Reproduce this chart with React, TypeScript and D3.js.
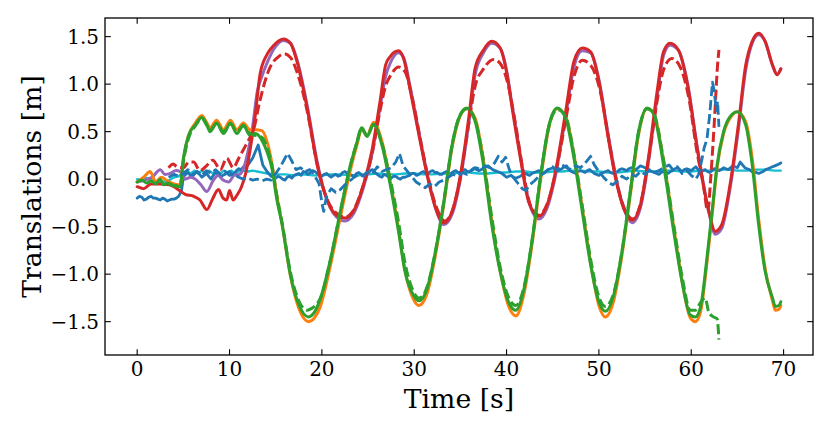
import React from "react";
import * as d3 from "d3";

type P = [number, number];

const xTicks = [0, 10, 20, 30, 40, 50, 60, 70];
const yTicks = [-1.5, -1.0, -0.5, 0.0, 0.5, 1.0, 1.5];
const xLabel = "Time [s]";
const yLabel = "Translations [m]";

const redSolid: P[] = [
  [0, -0.08], [0.7, -0.1], [1.5, -0.05], [2.5, -0.05], [3.5, -0.06], [4.6, -0.12], [5.2, -0.16], [6.1, -0.18],
  [6.8, -0.22], [7.55, -0.32], [8.2, -0.2], [8.8, -0.11], [9.3, -0.2], [9.7, -0.22], [10.0, -0.12], [10.4, -0.22],
  [10.8, -0.17], [11.3, -0.08], [11.8, 0.08], [12.2, 0.29], [12.8, 0.68], [13.3, 1.1], [14.05, 1.31], [14.8, 1.41],
  [15.85, 1.475], [16.6, 1.43], [17.3, 1.24], [18.4, 0.75], [19.5, 0.15], [20.3, -0.15], [20.9, -0.29], [21.6, -0.38],
  [22.5, -0.41], [23.4, -0.34], [24.5, -0.06], [25.4, 0.29], [26.3, 0.82], [26.9, 1.2], [27.4, 1.29], [28.3, 1.35],
  [28.85, 1.27], [29.6, 0.92], [30.5, 0.47], [31.4, 0.04], [32.3, -0.3], [33.2, -0.46], [34.1, -0.34], [35.0, 0.04],
  [35.9, 0.64], [36.6, 1.17], [37.5, 1.36], [38.4, 1.45], [39.3, 1.38], [40.05, 1.1], [40.6, 0.75], [41.5, 0.22],
  [42.4, -0.24], [43.5, -0.39], [44.4, -0.27], [45.3, 0.08], [46.4, 0.71], [47.3, 1.24], [48.2, 1.38], [49.1, 1.34],
  [50.0, 1.03], [50.9, 0.5], [51.8, 0.01], [52.7, -0.31], [53.6, -0.43], [54.5, -0.27], [55.4, 0.25], [56.3, 0.92],
  [57.0, 1.34], [57.7, 1.43], [58.6, 1.36], [59.6, 0.99], [60.6, 0.35], [61.0, 0.11], [61.9, -0.34], [62.6, -0.55],
  [63.3, -0.48], [64.2, -0.06], [65.1, 0.57], [65.9, 1.2], [66.6, 1.45], [67.3, 1.535], [68.0, 1.45], [68.8, 1.2],
  [69.3, 1.1], [69.7, 1.16],
];

const purpleSolid: P[] = [
  [0, -0.03], [0.8, -0.01], [1.6, 0.02], [2.5, 0.1], [3.0, 0.05], [3.6, 0.06], [4.2, 0.09], [4.66, 0.08],
  [5.2, 0.0], [5.8, 0.02], [6.3, 0.0], [6.9, -0.06], [7.55, -0.13], [8.2, -0.02], [8.8, 0.04], [9.3, -0.01],
  [9.9, -0.03], [10.5, 0.04], [11.1, 0.05], [11.5, 0.11], [12.0, 0.29], [12.5, 0.55], [13.0, 0.92], [13.5, 1.08],
  [14.05, 1.22], [14.8, 1.37], [15.85, 1.46], [16.6, 1.43], [17.3, 1.26], [18.4, 0.78], [19.5, 0.18], [20.3, -0.14],
  [20.9, -0.3], [21.6, -0.4], [22.5, -0.44], [23.4, -0.37], [24.5, -0.09], [25.4, 0.25], [26.3, 0.75], [26.9, 1.08],
  [27.4, 1.22], [28.3, 1.33], [28.85, 1.28], [29.6, 0.95], [30.5, 0.5], [31.4, 0.06], [32.3, -0.3], [33.2, -0.48],
  [34.1, -0.37], [35.0, 0.0], [35.9, 0.58], [36.6, 1.1], [37.5, 1.33], [38.4, 1.43], [39.3, 1.38], [40.05, 1.12],
  [40.6, 0.78], [41.5, 0.25], [42.4, -0.23], [43.5, -0.42], [44.4, -0.3], [45.3, 0.04], [46.4, 0.66], [47.3, 1.18],
  [48.2, 1.35], [49.1, 1.33], [50.0, 1.05], [50.9, 0.53], [51.8, 0.04], [52.7, -0.31], [53.6, -0.46], [54.5, -0.3],
  [55.4, 0.2], [56.3, 0.86], [57.0, 1.3], [57.7, 1.41], [58.6, 1.36], [59.6, 1.01], [60.6, 0.37], [61.0, 0.13],
  [61.9, -0.34], [62.6, -0.58], [63.3, -0.52], [64.2, -0.1], [65.1, 0.52], [65.9, 1.15], [66.6, 1.43], [67.3, 1.52],
  [68.0, 1.45], [68.8, 1.2], [69.3, 1.1], [69.7, 1.16],
];

const redDashed: P[] = [
  [3.4, 0.12], [3.9, 0.16], [4.3, 0.13], [5.0, 0.12], [5.6, 0.18], [6.1, 0.18], [6.8, 0.09], [7.5, 0.14],
  [8.2, 0.2], [9.0, 0.1], [9.7, 0.22], [10.4, 0.12], [11.0, 0.22], [11.5, 0.31], [12.0, 0.4], [12.6, 0.52],
  [13.3, 0.83], [14.4, 1.18], [15.2, 1.28], [15.9, 1.32], [16.6, 1.28], [17.4, 1.1], [18.4, 0.72], [19.5, 0.15],
  [20.6, -0.22], [21.6, -0.36], [22.5, -0.4], [23.4, -0.33], [24.5, -0.06], [25.4, 0.25], [26.3, 0.72], [26.9, 0.98],
  [27.5, 1.1], [28.3, 1.18], [29.0, 1.13], [29.8, 0.85], [30.7, 0.4], [31.6, -0.02], [32.5, -0.32], [33.3, -0.44],
  [34.1, -0.34], [35.0, 0.02], [35.9, 0.58], [36.6, 0.98], [37.5, 1.16], [38.6, 1.26], [39.3, 1.22], [40.2, 0.98],
  [40.9, 0.62], [41.8, 0.08], [42.6, -0.28], [43.5, -0.38], [44.4, -0.26], [45.3, 0.06], [46.4, 0.62], [47.3, 1.08],
  [48.2, 1.25], [49.1, 1.2], [50.2, 0.9], [51.1, 0.4], [52.0, -0.06], [52.8, -0.32], [53.7, -0.42], [54.5, -0.26],
  [55.4, 0.22], [56.3, 0.82], [57.0, 1.15], [57.9, 1.27], [58.8, 1.18], [59.8, 0.82], [60.6, 0.3], [61.3, -0.05],
  [61.8, -0.34], [62.1, 0.0], [62.5, 0.6], [62.85, 1.2], [63.0, 1.36],
];

const greenSolid: P[] = [
  [0, -0.03], [0.5, -0.01], [1.0, -0.04], [1.5, -0.02], [2.0, -0.05], [2.5, 0.0], [2.85, -0.06], [3.3, -0.04],
  [4.0, -0.07], [4.66, -0.08], [5.0, 0.22], [5.56, 0.46], [6.3, 0.57], [7.0, 0.65], [7.5, 0.58], [7.9, 0.5],
  [8.6, 0.59], [9.35, 0.48], [10.1, 0.59], [10.8, 0.48], [11.5, 0.57], [12.2, 0.46], [12.8, 0.48], [13.5, 0.41],
  [14.05, 0.29], [14.6, 0.11], [15.1, -0.2], [15.7, -0.48], [16.6, -1.01], [17.5, -1.32], [18.55, -1.45], [19.2, -1.4],
  [19.8, -1.27], [20.9, -0.86], [22.0, -0.34], [23.1, 0.15], [23.8, 0.39], [24.3, 0.54], [24.9, 0.45], [25.6, 0.58],
  [26.5, 0.36], [27.4, -0.06], [28.3, -0.55], [29.0, -0.97], [29.9, -1.22], [30.5, -1.28], [31.4, -1.15], [32.3, -0.76],
  [33.2, -0.24], [34.1, 0.36], [35.0, 0.68], [35.7, 0.75], [36.6, 0.61], [37.5, 0.15], [38.4, -0.48], [39.3, -0.97],
  [40.2, -1.29], [41.0, -1.38], [41.9, -1.15], [42.8, -0.62], [43.7, 0.04], [44.6, 0.57], [45.5, 0.75], [46.4, 0.64],
  [47.3, 0.22], [48.2, -0.34], [49.1, -0.9], [50.0, -1.29], [50.7, -1.39], [51.6, -1.22], [52.5, -0.76], [53.4, -0.13],
  [54.3, 0.5], [55.2, 0.75], [55.9, 0.69], [57.0, 0.15], [58.1, -0.55], [59.0, -1.08], [59.9, -1.43], [60.45, -1.45],
  [61.0, -1.35], [61.7, -0.83], [62.3, -0.3], [62.8, 0.15], [63.5, 0.5], [64.4, 0.68], [65.0, 0.71], [65.9, 0.57],
  [66.6, 0.15], [67.3, -0.48], [68.0, -0.97], [68.8, -1.25], [69.1, -1.34], [69.5, -1.33], [69.7, -1.29],
];

const orangeSolid: P[] = [
  [0, -0.03], [0.7, 0.02], [1.4, 0.08], [2.0, -0.03], [2.6, 0.02], [3.3, -0.02], [4.0, -0.05], [4.66, -0.06],
  [5.0, 0.2], [5.56, 0.46], [6.3, 0.59], [7.0, 0.67], [7.5, 0.6], [7.9, 0.54], [8.6, 0.62], [9.35, 0.52],
  [10.1, 0.62], [10.8, 0.52], [11.5, 0.59], [12.2, 0.52], [12.8, 0.52], [13.5, 0.51], [14.05, 0.4], [14.6, 0.16],
  [15.1, -0.16], [15.7, -0.48], [16.6, -1.02], [17.5, -1.36], [18.55, -1.5], [19.2, -1.46], [19.8, -1.35], [20.9, -0.92],
  [22.0, -0.4], [23.1, 0.1], [23.8, 0.36], [24.3, 0.52], [24.9, 0.46], [25.6, 0.6], [26.5, 0.4], [27.4, -0.02],
  [28.3, -0.52], [29.0, -0.96], [29.9, -1.26], [30.5, -1.33], [31.4, -1.2], [32.3, -0.8], [33.2, -0.27], [34.1, 0.33],
  [35.0, 0.67], [35.7, 0.74], [36.6, 0.64], [37.5, 0.2], [38.4, -0.44], [39.3, -0.96], [40.2, -1.33], [41.0, -1.44],
  [41.9, -1.2], [42.8, -0.66], [43.7, 0.0], [44.6, 0.55], [45.5, 0.74], [46.4, 0.66], [47.3, 0.26], [48.2, -0.3],
  [49.1, -0.88], [50.0, -1.33], [50.7, -1.45], [51.6, -1.28], [52.5, -0.8], [53.4, -0.17], [54.3, 0.47], [55.2, 0.74],
  [55.9, 0.7], [57.0, 0.2], [58.1, -0.5], [59.0, -1.07], [59.9, -1.46], [60.45, -1.5], [61.0, -1.4], [61.7, -0.88],
  [62.3, -0.34], [62.8, 0.12], [63.5, 0.48], [64.4, 0.67], [65.0, 0.71], [65.9, 0.6], [66.6, 0.22], [67.3, -0.42],
  [68.0, -0.94], [68.8, -1.28], [69.1, -1.38], [69.5, -1.37], [69.7, -1.33],
];

const greenDashed: P[] = [
  [3.4, -0.05], [4.0, -0.07], [4.66, -0.06], [5.0, 0.18], [5.6, 0.44], [6.3, 0.56], [7.0, 0.64], [7.5, 0.57],
  [7.9, 0.52], [8.6, 0.58], [9.35, 0.5], [10.1, 0.58], [10.8, 0.5], [11.5, 0.56], [12.2, 0.48], [12.8, 0.46],
  [13.5, 0.44], [14.05, 0.34], [14.6, 0.14], [15.1, -0.16], [15.7, -0.46], [16.6, -0.98], [17.5, -1.28], [18.4, -1.38],
  [18.9, -1.36], [19.4, -1.32], [19.8, -1.26], [20.9, -0.86], [22.0, -0.34], [23.1, 0.15], [23.8, 0.39], [24.3, 0.54],
  [24.9, 0.46], [25.6, 0.57], [26.5, 0.38], [27.4, 0.0], [28.3, -0.45], [29.0, -0.88], [29.9, -1.18], [30.5, -1.25],
  [31.0, -1.22], [31.4, -1.13], [32.3, -0.76], [33.2, -0.24], [34.1, 0.36], [35.0, 0.68], [35.7, 0.74], [36.6, 0.62],
  [37.5, 0.2], [38.4, -0.4], [39.3, -0.92], [40.2, -1.24], [41.0, -1.33], [41.9, -1.13], [42.8, -0.62], [43.7, 0.04],
  [44.6, 0.56], [45.5, 0.73], [46.4, 0.66], [47.3, 0.26], [48.2, -0.28], [49.1, -0.84], [50.0, -1.24], [50.7, -1.34],
  [51.6, -1.2], [52.5, -0.76], [53.4, -0.13], [54.3, 0.5], [55.2, 0.74], [55.9, 0.7], [57.0, 0.2], [58.1, -0.48],
  [59.0, -1.02], [59.9, -1.38], [60.45, -1.38], [61.0, -1.3], [61.5, -1.25], [61.9, -1.4], [62.4, -1.45], [62.8, -1.47],
  [63.0, -1.69],
];

const blueSolid: P[] = [
  [0, -0.2], [0.25, -0.18], [0.5, -0.19], [0.75, -0.22], [1.0, -0.21], [1.25, -0.19], [1.5, -0.18], [1.75, -0.2],
  [2.0, -0.2], [2.25, -0.21], [2.5, -0.22], [2.75, -0.2], [3.0, -0.21], [3.25, -0.23], [3.5, -0.22], [3.75, -0.21],
  [4.0, -0.21], [4.25, -0.2], [4.5, -0.18], [4.8, -0.12], [5.0, 0.02], [5.25, 0.05], [5.5, 0.07], [5.75, 0.04],
  [6.0, 0.03], [6.25, 0.06], [6.5, 0.08], [6.75, 0.05], [7.0, 0.02], [7.25, 0.04], [7.5, 0.06], [7.75, 0.03],
  [8.0, 0.0], [8.25, 0.04], [8.5, 0.07], [8.75, 0.05], [9.0, 0.02], [9.25, 0.04], [9.5, 0.05], [9.75, 0.07],
  [10.0, 0.08], [10.25, 0.05], [10.5, 0.06], [10.75, 0.09], [11.0, 0.11], [11.25, 0.1], [11.5, 0.13], [11.75, 0.12],
  [12.0, 0.15], [12.5, 0.22], [13.1, 0.36], [13.6, 0.15], [14.05, 0.08], [14.5, 0.03], [15.0, 0.01], [15.25, 0.03],
  [15.5, 0.02], [15.75, 0.0], [16.0, -0.01], [16.25, 0.02], [16.5, 0.03], [16.75, 0.01], [17.0, 0.04], [17.25, 0.05],
  [17.5, 0.06], [17.75, 0.04], [18.0, 0.08], [18.25, 0.07], [18.5, 0.05], [18.75, 0.07], [19.0, 0.09], [19.25, 0.08],
  [19.5, 0.06], [19.75, 0.04], [20.0, 0.03], [20.25, 0.05], [20.5, 0.06], [20.75, 0.04], [21.0, 0.02], [21.25, 0.04],
  [21.5, 0.05], [21.75, 0.03], [22.0, 0.04], [22.25, 0.07], [22.5, 0.08], [22.75, 0.06], [23.0, 0.05], [23.25, 0.04],
  [23.5, 0.03], [23.75, 0.06], [24.0, 0.07], [24.25, 0.05], [24.5, 0.04], [24.75, 0.06], [25.0, 0.06], [25.25, 0.09],
  [25.5, 0.1], [25.75, 0.07], [26.0, 0.05], [26.25, 0.03], [26.5, 0.02], [26.75, 0.05], [27.0, 0.04], [27.25, 0.02],
  [27.5, 0.01], [27.75, 0.03], [28.0, 0.03], [28.25, 0.01], [28.5, 0.0], [28.75, 0.02], [29.0, 0.02], [29.25, 0.03],
  [29.5, 0.04], [29.75, 0.06], [30.0, 0.06], [30.25, 0.04], [30.5, 0.05], [30.75, 0.07], [31.0, 0.08], [31.25, 0.06],
  [31.5, 0.06], [31.75, 0.08], [32.0, 0.09], [32.25, 0.07], [32.5, 0.07], [32.75, 0.05], [33.0, 0.05], [33.25, 0.07],
  [33.5, 0.08], [33.75, 0.06], [34.0, 0.06], [34.25, 0.08], [34.5, 0.09], [34.75, 0.07], [35.0, 0.07], [35.25, 0.09],
  [35.5, 0.1], [35.75, 0.08], [36.0, 0.08], [36.25, 0.1], [36.5, 0.12], [36.75, 0.1], [37.0, 0.09], [37.25, 0.1],
  [37.5, 0.11], [37.75, 0.13], [38.0, 0.14], [38.25, 0.12], [38.5, 0.1], [38.75, 0.09], [39.0, 0.08], [39.25, 0.07],
  [39.5, 0.06], [39.75, 0.04], [40.0, 0.02], [40.25, 0.03], [40.5, 0.04], [40.75, 0.02], [41.0, 0.01], [41.25, 0.02],
  [41.5, 0.03], [41.75, 0.05], [42.0, 0.06], [42.25, 0.05], [42.5, 0.04], [42.75, 0.06], [43.0, 0.07], [43.25, 0.08],
  [43.5, 0.09], [43.75, 0.07], [44.0, 0.06], [44.25, 0.08], [44.5, 0.1], [44.75, 0.11], [45.0, 0.12], [45.25, 0.1],
  [45.5, 0.09], [45.75, 0.1], [46.0, 0.11], [46.25, 0.13], [46.5, 0.14], [46.75, 0.1], [47.0, 0.08], [47.25, 0.07],
  [47.5, 0.06], [47.75, 0.08], [48.0, 0.09], [48.25, 0.08], [48.5, 0.07], [48.75, 0.09], [49.0, 0.1], [49.25, 0.08],
  [49.5, 0.06], [49.75, 0.05], [50.0, 0.04], [50.25, 0.06], [50.5, 0.07], [50.75, 0.08], [51.0, 0.09], [51.25, 0.07],
  [51.5, 0.06], [51.75, 0.07], [52.0, 0.08], [52.25, 0.1], [52.5, 0.11], [52.75, 0.1], [53.0, 0.09], [53.25, 0.11],
  [53.5, 0.12], [53.75, 0.11], [54.0, 0.1], [54.25, 0.12], [54.5, 0.14], [54.75, 0.13], [55.0, 0.12], [55.25, 0.1],
  [55.5, 0.09], [55.75, 0.08], [56.0, 0.07], [56.25, 0.06], [56.5, 0.05], [56.75, 0.07], [57.0, 0.08], [57.25, 0.07],
  [57.5, 0.06], [57.75, 0.08], [58.0, 0.09], [58.25, 0.11], [58.5, 0.12], [58.75, 0.1], [59.0, 0.08], [59.25, 0.1],
  [59.5, 0.11], [59.75, 0.1], [60.0, 0.09], [60.25, 0.11], [60.5, 0.13], [60.75, 0.1], [61.0, 0.08], [61.25, 0.09],
  [61.5, 0.1], [61.75, 0.08], [62.0, 0.07], [62.25, 0.09], [62.5, 0.11], [62.75, 0.1], [63.0, 0.09], [63.25, 0.1],
  [63.5, 0.12], [63.75, 0.11], [64.0, 0.1], [64.25, 0.12], [64.5, 0.14], [64.75, 0.13], [65.0, 0.12], [65.3, 0.18],
  [65.55, 0.15], [65.8, 0.12], [66.05, 0.11], [66.3, 0.1], [66.55, 0.08], [66.8, 0.07], [67.05, 0.07], [67.3, 0.06],
  [67.55, 0.07], [67.8, 0.08], [68.05, 0.1], [68.3, 0.11], [68.55, 0.12], [68.8, 0.13], [69.05, 0.14], [69.3, 0.15],
  [69.5, 0.16], [69.7, 0.17],
];

const blueDashed: P[] = [
  [3.4, 0.02], [4.0, 0.05], [4.5, 0.03], [5.0, 0.06], [5.5, 0.1], [6.0, 0.05], [6.5, 0.08], [7.0, 0.04],
  [7.5, 0.09], [8.0, 0.06], [8.5, 0.1], [9.0, 0.05], [9.5, 0.08], [10.0, 0.04], [10.5, 0.05], [11.0, 0.02],
  [11.5, 0.0], [12.0, 0.01], [12.5, -0.01], [13.0, 0.0], [13.5, -0.02], [14.0, 0.0], [14.5, -0.01], [15.0, 0.06],
  [15.5, 0.13], [16.0, 0.22], [16.3, 0.27], [16.8, 0.18], [17.2, 0.1], [17.7, 0.12], [18.2, 0.08], [18.7, 0.1],
  [19.2, 0.04], [19.7, -0.05], [20.0, -0.25], [20.2, -0.34], [20.5, -0.18], [21.0, -0.1], [21.5, -0.14], [22.0, -0.11],
  [22.5, -0.06], [23.0, -0.02], [23.5, 0.02], [24.0, 0.05], [24.5, 0.03], [25.0, 0.08], [25.5, 0.06], [26.0, 0.13],
  [26.5, 0.08], [27.0, 0.1], [27.5, 0.12], [28.0, 0.18], [28.4, 0.27], [28.8, 0.14], [29.2, 0.09], [29.7, 0.03],
  [30.2, -0.03], [30.7, -0.06], [31.2, -0.09], [31.7, -0.05], [32.2, -0.08], [32.7, -0.03], [33.2, -0.01], [33.7, 0.02],
  [34.2, 0.05], [34.7, 0.03], [35.2, 0.07], [35.7, 0.05], [36.2, 0.09], [36.7, 0.12], [37.2, 0.1], [37.7, 0.14],
  [38.2, 0.12], [38.7, 0.17], [39.1, 0.24], [39.5, 0.18], [39.9, 0.23], [40.3, 0.1], [40.7, 0.02], [41.2, -0.04],
  [41.7, -0.1], [42.1, -0.12], [42.5, -0.06], [43.0, -0.02], [43.5, 0.03], [44.0, 0.06], [44.5, 0.1], [45.0, 0.13],
  [45.5, 0.09], [46.0, 0.15], [46.5, 0.12], [47.0, 0.1], [47.5, 0.14], [48.0, 0.12], [48.6, 0.18], [49.1, 0.24],
  [49.5, 0.15], [50.0, 0.08], [50.5, 0.02], [51.0, -0.03], [51.5, -0.06], [52.0, -0.02], [52.5, 0.03], [53.0, 0.0],
  [53.5, 0.05], [54.0, 0.03], [54.5, 0.08], [55.0, 0.05], [55.5, 0.1], [56.0, 0.07], [56.5, 0.09], [57.0, 0.12],
  [57.6, 0.15], [58.0, 0.1], [58.5, 0.13], [59.0, 0.06], [59.5, 0.09], [60.0, 0.04], [60.5, 0.0], [60.8, 0.05],
  [61.1, 0.18], [61.4, 0.33], [61.7, 0.42], [62.0, 0.68], [62.3, 1.02], [62.5, 0.92], [62.7, 0.72], [62.85, 0.82],
  [63.0, 0.55],
];

const cyanSolid: P[] = [
  [0, 0.0], [0.5, -0.01], [1.0, 0.01], [1.5, -0.01], [2.0, -0.02], [2.5, -0.04], [3.0, -0.02], [3.5, -0.01],
  [4.0, 0.02], [4.5, 0.03], [5.0, 0.07], [5.4, 0.08], [5.8, 0.06], [6.2, 0.09], [6.6, 0.06], [7.0, 0.09],
  [7.4, 0.06], [7.8, 0.09], [8.2, 0.06], [8.6, 0.09], [9.0, 0.06], [9.4, 0.09], [9.8, 0.07], [10.2, 0.09],
  [10.6, 0.06], [11.0, 0.08], [11.5, 0.09], [12.0, 0.08], [12.5, 0.09], [13.0, 0.08], [14.0, 0.06], [15.0, 0.05],
  [16.0, 0.05], [17.0, 0.04], [18.0, 0.05], [19.0, 0.04], [20.0, 0.04], [21.0, 0.05], [22.0, 0.05], [23.0, 0.04],
  [24.0, 0.04], [25.0, 0.05], [26.0, 0.06], [27.0, 0.05], [28.0, 0.05], [29.0, 0.06], [30.0, 0.06], [31.0, 0.05],
  [32.0, 0.05], [33.0, 0.06], [34.0, 0.06], [35.0, 0.07], [36.0, 0.07], [37.0, 0.06], [38.0, 0.06], [39.0, 0.07],
  [40.0, 0.07], [41.0, 0.08], [42.0, 0.08], [43.0, 0.07], [44.0, 0.07], [45.0, 0.08], [46.0, 0.08], [47.0, 0.09],
  [48.0, 0.09], [49.0, 0.08], [50.0, 0.08], [51.0, 0.07], [52.0, 0.07], [53.0, 0.08], [54.0, 0.09], [55.0, 0.08],
  [56.0, 0.08], [57.0, 0.09], [58.0, 0.09], [59.0, 0.08], [60.0, 0.08], [61.0, 0.09], [62.0, 0.09], [63.0, 0.1],
  [64.0, 0.1], [65.0, 0.09], [66.0, 0.09], [67.0, 0.1], [68.0, 0.1], [69.0, 0.09], [69.7, 0.09],
];

const W = 830;
const H = 433;
const left = 105;
const right = 813;
const top = 18;
const bottom = 355;
const font = "'DejaVu Serif', serif";

export default function App() {
  const x = d3.scaleLinear().domain([-3.485, 73.185]).range([left, right]);
  const y = d3.scaleLinear().domain([-1.851, 1.696]).range([bottom, top]);
  const smooth = d3.line<P>().x((d) => x(d[0])).y((d) => y(d[1])).curve(d3.curveMonotoneX);
  const jagged = d3.line<P>().x((d) => x(d[0])).y((d) => y(d[1])).curve(d3.curveLinear);

  const series = [
    { data: cyanSolid, color: "#17becf", gen: jagged, dash: undefined, w: 2.4 },
    { data: blueSolid, color: "#1f77b4", gen: jagged, dash: undefined, w: 2.8 },
    { data: purpleSolid, color: "#9467bd", gen: smooth, dash: undefined, w: 3 },
    { data: orangeSolid, color: "#ff7f0e", gen: smooth, dash: undefined, w: 3 },
    { data: redSolid, color: "#d62728", gen: smooth, dash: undefined, w: 3 },
    { data: greenSolid, color: "#2ca02c", gen: smooth, dash: undefined, w: 3 },
    { data: redDashed, color: "#d62728", gen: smooth, dash: "10,4", w: 3 },
    { data: greenDashed, color: "#2ca02c", gen: smooth, dash: "10,4", w: 3 },
    { data: blueDashed, color: "#1f77b4", gen: jagged, dash: "10,4", w: 2.8 },
  ];

  const tl = 5.8;

  return (
    <svg width={W} height={H} style={{ position: "absolute", left: 0, top: 0, background: "#fff" }}>
      <defs>
        <clipPath id="plotclip">
          <rect x={left} y={top} width={right - left} height={bottom - top} />
        </clipPath>
      </defs>
      <rect x={0} y={0} width={W} height={H} fill="#fff" />
      <g clipPath="url(#plotclip)">
        {series.map((s, i) => (
          <path
            key={i}
            d={s.gen(s.data) || ""}
            fill="none"
            stroke={s.color}
            strokeWidth={s.w}
            strokeDasharray={s.dash}
            strokeLinejoin="round"
            strokeLinecap={s.dash ? "butt" : "round"}
          />
        ))}
      </g>
      <rect x={left} y={top} width={right - left} height={bottom - top} fill="none" stroke="#000" strokeWidth={1.3} />
      {xTicks.map((t) => (
        <g key={"x" + t}>
          <line x1={x(t)} x2={x(t)} y1={bottom} y2={bottom - tl} stroke="#000" strokeWidth={1.1} />
          <line x1={x(t)} x2={x(t)} y1={top} y2={top + tl} stroke="#000" strokeWidth={1.1} />
          <text x={x(t)} y={376} textAnchor="middle" fontFamily={font} fontSize={20} fill="#000">
            {String(t)}
          </text>
        </g>
      ))}
      {yTicks.map((t) => (
        <g key={"y" + t}>
          <line x1={left} x2={left + tl} y1={y(t)} y2={y(t)} stroke="#000" strokeWidth={1.1} />
          <line x1={right} x2={right - tl} y1={y(t)} y2={y(t)} stroke="#000" strokeWidth={1.1} />
          <text x={99} y={y(t) + 7.3} textAnchor="end" fontFamily={font} fontSize={20} fill="#000">
            {t.toFixed(1).replace("-", "\u2212")}
          </text>
        </g>
      ))}
      <text x={(left + right) / 2} y={408} textAnchor="middle" fontFamily={font} fontSize={26.7} fill="#000">
        {xLabel}
      </text>
      <text
        transform={`translate(40.5, ${(top + bottom) / 2}) rotate(-90)`}
        textAnchor="middle"
        fontFamily={font}
        fontSize={26.7}
        fill="#000"
      >
        {yLabel}
      </text>
    </svg>
  );
}
